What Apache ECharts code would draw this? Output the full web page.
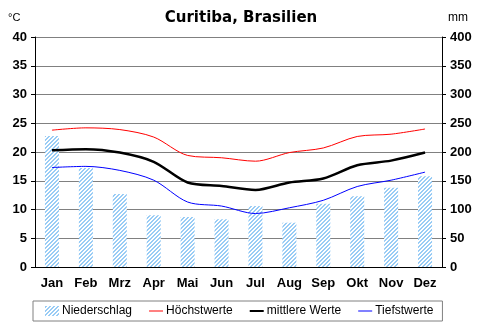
<!DOCTYPE html>
<html><head><meta charset="utf-8">
<script src="https://cdn.jsdelivr.net/npm/echarts@6/dist/echarts.min.js"></script>
<style>html,body{margin:0;padding:0;background:#fff}#c{width:482px;height:329px}</style>
</head><body><div id="c"></div>
<script>
const months = ['Jan','Feb','Mrz','Apr','Mai','Jun','Jul','Aug','Sep','Okt','Nov','Dez'];
const precipitation = [228,172,127,90,87,83,106,77,110,123,138,158];
const maxTemp = [23.8,24.2,23.9,22.6,19.4,19.0,18.4,19.9,20.7,22.7,23.1,24.0];
const meanTemp = [20.3,20.5,19.9,18.3,14.7,14.1,13.4,14.7,15.4,17.7,18.5,19.9];
const minTemp = [17.3,17.5,16.8,15.1,11.3,10.6,9.3,10.3,11.6,14.0,15.1,16.5];
const tempTicks = [0,5,10,15,20,25,30,35,40];
const mmTicks = [0,50,100,150,200,250,300,350,400];

const pc = document.createElement('canvas');
pc.width = 4; pc.height = 4;
const ctx = pc.getContext('2d');
ctx.fillStyle = '#ffffff'; ctx.fillRect(0,0,4,4);
ctx.fillStyle = '#99ccf5';
for (let x=0;x<4;x++) for (let y=0;y<4;y++) if ((x+y)%4<2) ctx.fillRect(x,y,1,1);
const hatch = {image: pc, repeat: 'repeat'};

const chart = echarts.init(document.getElementById('c'), null, {renderer:'canvas'});
const axisFont = {fontFamily:'Liberation Sans, Arial', fontWeight:'bold', fontSize:13, color:'#000'};
chart.setOption({
  animation:false,
  backgroundColor:'#fff',
  title:{text:'Curitiba, Brasilien', left:'center', top:6, textStyle:{fontFamily:'DejaVu Sans', fontWeight:'bold', fontSize:15, color:'#000'}},
  graphic:[
    {type:'text', left:8, top:12, style:{text:'°C', font:'11px Liberation Sans, Arial', fill:'#000'}},
    {type:'text', left:448, top:12, style:{text:'mm', font:'12px Liberation Sans, Arial', fill:'#000'}}
  ],
  grid:{left:35, right:40, top:37, bottom:62},
  legend:{
    bottom:8, left:33, padding:[4,9,4,12], itemGap:17, borderColor:'#808080', borderWidth:1,
    itemWidth:14, itemHeight:10,
    textStyle:{fontFamily:'Liberation Sans, Arial', fontSize:12, color:'#000', padding:[0,0,0,-2]},
    data:[
      {name:'Niederschlag', icon:'rect'},
      {name:'Höchstwerte', icon:'path://M0,4.5L14,4.5L14,5.5L0,5.5Z'},
      {name:'mittlere Werte', icon:'path://M0,4L14,4L14,6L0,6Z'},
      {name:'Tiefstwerte', icon:'path://M0,4.5L14,4.5L14,5.5L0,5.5Z'}
    ]
  },
  xAxis:{type:'category', data:months, boundaryGap:true,
    axisLine:{lineStyle:{color:'#000'}}, axisTick:{length:5, lineStyle:{color:'#000'}},
    axisLabel:Object.assign({margin:10}, axisFont)},
  yAxis:[
    {type:'value', min:0, max:40, interval:5, position:'left',
      axisLine:{show:true, lineStyle:{color:'#000'}}, axisTick:{show:true, length:4, lineStyle:{color:'#000'}},
      axisLabel:Object.assign({margin:8, formatter:v=>tempTicks.includes(v)?String(v):''}, axisFont),
      splitLine:{show:true, lineStyle:{color:'#808080', width:1}}},
    {type:'value', min:0, max:400, interval:50, position:'right',
      axisLine:{show:true, lineStyle:{color:'#000'}}, axisTick:{show:true, length:4, lineStyle:{color:'#000'}},
      axisLabel:Object.assign({margin:8, formatter:v=>mmTicks.includes(v)?String(v):''}, axisFont),
      splitLine:{show:false}}
  ],
  series:[
    {name:'Niederschlag', type:'bar', yAxisIndex:1, data:precipitation, barWidth:14, itemStyle:{color:hatch}},
    {name:'Höchstwerte', type:'line', data:maxTemp, smooth:0.3, symbol:'none', lineStyle:{color:'#ff0000', width:1}, itemStyle:{color:'#ff0000'}},
    {name:'mittlere Werte', type:'line', data:meanTemp, smooth:0.3, symbol:'none', lineStyle:{color:'#000000', width:2.5}, itemStyle:{color:'#000000'}},
    {name:'Tiefstwerte', type:'line', data:minTemp, smooth:0.3, symbol:'none', lineStyle:{color:'#0000ff', width:1}, itemStyle:{color:'#0000ff'}}
  ]
});
</script></body></html>
